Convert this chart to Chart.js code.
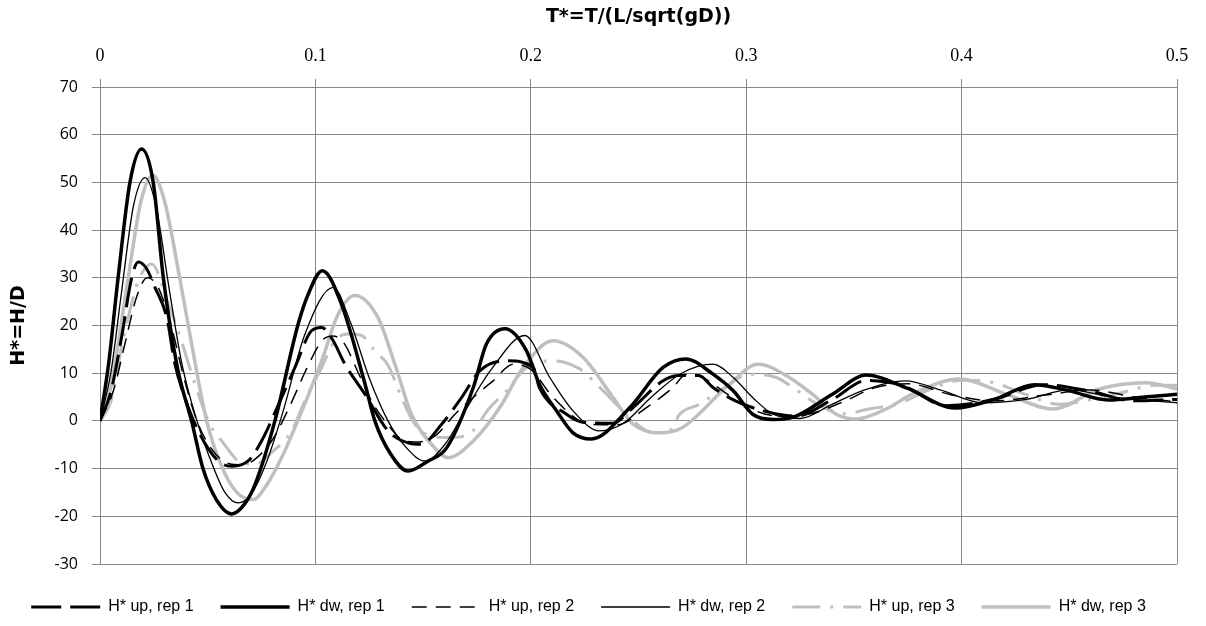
<!DOCTYPE html>
<html>
<head>
<meta charset="utf-8">
<script src="https://cdn.jsdelivr.net/npm/chart.js@4/dist/chart.umd.min.js"></script>
<style>
  html, body { margin: 0; padding: 0; background: #fff; }
  canvas { display: block; }
</style>
</head>
<body>
<canvas id="myChart" width="1206" height="626"></canvas>
<script>
// valeurs (T* en abscisse, H* en ordonnée)
const xTicks = [0, 0.1, 0.2, 0.3, 0.4, 0.5];
const yTicks = [-30, -20, -10, 0, 10, 20, 30, 40, 50, 60, 70];

const upRep1T = [0, 0.005, 0.01, 0.0147, 0.0178, 0.0215, 0.0255, 0.031, 0.0348, 0.0394, 0.0456, 0.0549, 0.0611, 0.0688, 0.075, 0.0843, 0.0905, 0.0982, 0.1029, 0.108, 0.1137, 0.123, 0.1338, 0.143, 0.149, 0.1586, 0.168, 0.1763, 0.1887, 0.2011, 0.204, 0.2166, 0.2243, 0.238, 0.2475, 0.2614, 0.269, 0.278, 0.2846, 0.295, 0.308, 0.323, 0.34, 0.356, 0.372, 0.393, 0.415, 0.438, 0.46, 0.48, 0.5];
const upRep1H = [0, 6, 17.5, 30, 33.3, 32, 28, 21.7, 11.9, 4.9, -2.1, -8.4, -9.5, -8.4, -4.2, 4.9, 11.2, 18.9, 19.6, 17, 11.9, 5.6, -2.1, -4.6, -4.9, -0.7, 5, 10.5, 12.6, 11.2, 7, 1.4, -0.3, -0.5, 2.8, 8.4, 9.5, 9.5, 7, 4.2, 2.1, 1.0, 4.5, 8.5, 7.5, 3.2, 4.5, 7.6, 6.2, 4.2, 4.5];

const dwRep1T = [0, 0.004, 0.0084, 0.0139, 0.0193, 0.0247, 0.0294, 0.036, 0.0425, 0.0478, 0.054, 0.0611, 0.067, 0.072, 0.0812, 0.092, 0.0967, 0.1032, 0.1121, 0.123, 0.1276, 0.135, 0.143, 0.152, 0.161, 0.1733, 0.1794, 0.188, 0.198, 0.204, 0.212, 0.2196, 0.228, 0.246, 0.2614, 0.272, 0.2846, 0.294, 0.303, 0.3125, 0.322, 0.34, 0.3558, 0.375, 0.397, 0.415, 0.434, 0.45, 0.468, 0.485, 0.5];
const dwRep1H = [0, 12, 30, 50, 57, 50, 30, 11, 0, -10, -16.5, -19.5, -17.5, -13.3, 0, 20.3, 26.6, 31.5, 24.5, 7.8, 0, -7, -10.5, -8.5, -5.6, 7, 16.1, 19.3, 14.7, 7.7, 2.1, -2.5, -3.8, 2.8, 11.2, 13, 9.8, 6.3, 1.4, 0.3, 0.8, 5.6, 9.6, 6.8, 2.7, 4.5, 7.6, 6.3, 4.4, 5.0, 5.6];

const upRep2T = [0, 0.006, 0.012, 0.017, 0.022, 0.027, 0.033, 0.039, 0.045, 0.052, 0.06, 0.066, 0.072, 0.08, 0.088, 0.096, 0.103, 0.108, 0.113, 0.12, 0.126, 0.134, 0.1415, 0.148, 0.156, 0.165, 0.1735, 0.1825, 0.1918, 0.2, 0.2104, 0.2274, 0.24, 0.2537, 0.266, 0.2722, 0.28, 0.29, 0.3, 0.315, 0.33, 0.345, 0.36, 0.375, 0.395, 0.415, 0.44, 0.46, 0.48, 0.5];
const upRep2H = [0, 6, 17, 26, 30, 28, 20, 9, 0, -6, -9, -9.2, -8, -4, 3, 11, 16.8, 17.8, 16.5, 10, 4.2, -1, -4.2, -4.4, -3, 1.5, 5, 8.4, 11.9, 10.8, 4.9, -0.7, -0.8, 2.8, 7, 9.8, 9, 6, 3, 1, 1.5, 4, 7, 7.8, 5.5, 4.2, 5.5, 6.5, 5, 4];

const dwRep2T = [0, 0.005, 0.01, 0.0155, 0.021, 0.026, 0.032, 0.038, 0.045, 0.052, 0.058, 0.064, 0.07, 0.077, 0.085, 0.095, 0.1083, 0.116, 0.125, 0.1337, 0.142, 0.1508, 0.16, 0.17, 0.182, 0.1972, 0.2088, 0.2196, 0.232, 0.243, 0.256, 0.27, 0.2846, 0.294, 0.303, 0.3125, 0.325, 0.34, 0.355, 0.374, 0.39, 0.41, 0.43, 0.45, 0.47, 0.5];
const dwRep2H = [0, 10, 27, 45, 51, 45, 28, 12, 0, -9, -15, -17.2, -15.5, -9, 2, 18, 28, 21, 9, 0, -5.5, -8.4, -5, 2.5, 11, 17.9, 9.1, 2.1, -2.1, -0.5, 5, 10, 11.9, 9.1, 4.9, 1.4, 0.5, 3.5, 6.5, 8.4, 6.5, 3.8, 4.5, 6.5, 5, 3.8];

const upRep3T = [0, 0.005, 0.01, 0.0131, 0.0178, 0.024, 0.0317, 0.0363, 0.0441, 0.051, 0.0565, 0.0657, 0.072, 0.08, 0.089, 0.0951, 0.1029, 0.109, 0.1152, 0.1214, 0.1276, 0.1338, 0.14, 0.1462, 0.154, 0.162, 0.172, 0.181, 0.1887, 0.198, 0.2104, 0.2227, 0.2305, 0.2382, 0.2475, 0.2568, 0.2645, 0.2691, 0.2784, 0.29, 0.3016, 0.314, 0.3217, 0.333, 0.345, 0.357, 0.37, 0.385, 0.4, 0.415, 0.43, 0.445, 0.46, 0.475, 0.49, 0.5];
const upRep3H = [0, 4, 15.4, 21.7, 29.4, 32.9, 24.5, 18.9, 7.7, -0.7, -4.2, -8.8, -9.1, -6.5, -2.1, 4.2, 11.2, 16.8, 18.2, 17.9, 14.7, 11.6, 4.9, -0.7, -3.2, -3.5, -2.5, 2.8, 6.3, 11.2, 12.6, 10.9, 7.7, 4.2, 0, -2.5, -2.1, 1.4, 3.5, 7, 9.8, 9.1, 7, 3.5, 1.5, 2.5, 3.5, 6.5, 8.5, 8, 5.5, 3.5, 4.5, 6, 7.5, 7.5];

const dwRep3T = [0, 0.005, 0.0131, 0.019, 0.0245, 0.03, 0.037, 0.043, 0.0495, 0.056, 0.0635, 0.0711, 0.078, 0.084, 0.0905, 0.1029, 0.1106, 0.1183, 0.129, 0.1369, 0.1446, 0.1539, 0.1617, 0.1733, 0.1856, 0.1964, 0.2104, 0.2243, 0.2382, 0.2475, 0.2598, 0.27, 0.2923, 0.3055, 0.32, 0.3326, 0.3418, 0.351, 0.365, 0.377, 0.399, 0.4207, 0.4424, 0.464, 0.4857, 0.5];
const dwRep3H = [0, 7, 30, 46, 51.5, 46, 30, 15, 0, -9, -15, -16.5, -13, -8, -1.4, 12.6, 22.4, 26.3, 21.7, 11.9, 1.4, -4.9, -7.7, -4.2, 2.8, 11.2, 16.8, 13.3, 4.9, -0.7, -2.5, -1.5, 7.7, 11.9, 9.1, 4.9, 1.4, 0.4, 2.5, 5.6, 8.8, 5.6, 2.5, 6.7, 8, 6.7];

const BLACK = '#000000';
const GREY = '#bfbfbf';
const GRID = '#878787';

function pts(t, h) {
    return t.map((v, i) => ({ x: v, y: h[i] }));
}

function serie(label, t, h, color, width, dash) {
    return {
        label: label,
        data: pts(t, h),
        borderColor: color,
        backgroundColor: color,
        borderWidth: width,
        borderDash: dash,
        pointRadius: 0,
        fill: false,
        cubicInterpolationMode: 'monotone'
    };
}

const ctx = document.getElementById('myChart');

new Chart(ctx, {
    type: 'line',
    data: {
        datasets: [
            serie('H* up, rep 1', upRep1T, upRep1H, BLACK, 3, [30, 9]),
            serie('H* dw, rep 1', dwRep1T, dwRep1H, BLACK, 3.5, []),
            serie('H* up, rep 2', upRep2T, upRep2H, BLACK, 1.5, [15, 9]),
            serie('H* dw, rep 2', dwRep2T, dwRep2H, BLACK, 1.3, []),
            serie('H* up, rep 3', upRep3T, upRep3H, GREY, 3, [28, 10, 3, 10]),
            serie('H* dw, rep 3', dwRep3T, dwRep3H, GREY, 3.5, [])
        ]
    },
    options: {
        responsive: false,
        animation: false,
        layout: { padding: { left: 0, right: 29, top: 0, bottom: 1 } },
        plugins: {
            tooltip: { enabled: false },
            legend: {
                position: 'bottom',
                labels: {
                    usePointStyle: true,
                    pointStyle: 'line',
                    pointStyleWidth: 69,
                    padding: 27,
                    color: '#000',
                    font: { family: 'Liberation Sans', size: 16 },
                    // les tirets du legend viennent des datasets
                    generateLabels: (chart) => {
                        const items = Chart.defaults.plugins.legend.labels.generateLabels(chart);
                        items.forEach(item => {
                            const ds = chart.data.datasets[item.datasetIndex];
                            item.lineDash = ds.borderDash;
                            item.lineWidth = ds.borderWidth;
                            item.strokeStyle = ds.borderColor;
                            item.pointStyle = 'line';
                        });
                        return items;
                    }
                }
            }
        },
        scales: {
            x: {
                type: 'linear',
                position: 'top',
                min: 0,
                max: 0.5,
                afterBuildTicks: (s) => { s.ticks = xTicks.map(v => ({ value: v })); },
                afterFit: (s) => { s.height = 87; },
                ticks: {
                    color: '#000',
                    padding: 12,
                    font: { family: 'Liberation Serif', size: 18 },
                    callback: (v) => String(v)
                },
                grid: { color: GRID, tickLength: 8, tickColor: GRID },
                border: { color: GRID },
                title: {
                    display: true,
                    text: 'T*=T/(L/sqrt(gD))',
                    color: '#000',
                    padding: { top: 6, bottom: 0 },
                    font: { family: 'DejaVu Sans', size: 19, weight: 'bold' }
                }
            },
            x2: {
                type: 'linear',
                position: 'bottom',
                display: true,
                grid: { display: false },
                border: { display: false },
                ticks: { display: false },
                afterFit: (s) => { s.height = 8; }
            },
            y: {
                min: -30,
                max: 70,
                afterBuildTicks: (s) => { s.ticks = yTicks.map(v => ({ value: v })); },
                afterFit: (s) => { s.width = 100; },
                ticks: {
                    color: '#000',
                    padding: 14,
                    font: { family: 'Open Sans', size: 16 }
                },
                grid: { color: GRID, tickLength: 8, tickColor: GRID },
                border: { color: GRID },
                title: {
                    display: true,
                    text: 'H*=H/D',
                    color: '#000',
                    padding: { top: 8, bottom: 0 },
                    font: { family: 'DejaVu Sans', size: 19, weight: 'bold' }
                }
            }
        }
    }
});
</script>
</body>
</html>
